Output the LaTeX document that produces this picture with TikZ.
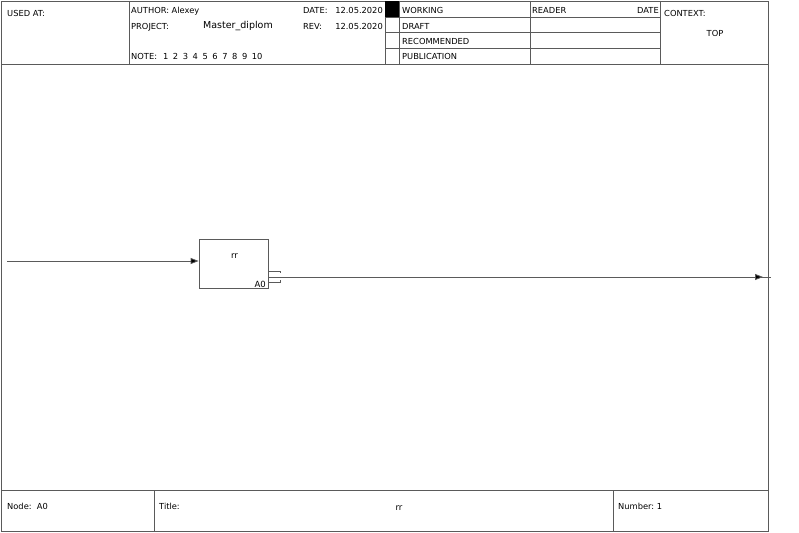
\documentclass[tikz,border=0pt]{standalone}
\usepackage{fontspec}
\setmainfont{DejaVu Sans}
\usetikzlibrary{arrows.meta}
\definecolor{ln}{RGB}{90,90,90}
\begin{document}
\begin{tikzpicture}[x=1pt,y=-1pt,
  frame/.style={draw=ln,line width=0.8pt},
  lbl/.style={inner sep=0pt,font=\fontsize{8.3}{9}\selectfont,anchor=base west},
  lblr/.style={inner sep=0pt,font=\fontsize{8.3}{9}\selectfont,anchor=base east},
  conn/.style={draw=ln,line width=0.8pt},
  tip/.style={-{Triangle[length=8pt,width=6pt,fill=black]}}]
\useasboundingbox (0,0) rectangle (799,532);
% outer frame
\draw[frame] (1,1) rectangle (768,531);
% header
\draw[frame] (1,64) -- (768,64);
\draw[frame] (129,1) -- (129,64);
\draw[frame] (385,1) -- (385,64);
\draw[frame] (399,1) -- (399,64);
\draw[frame] (530,1) -- (530,64);
\draw[frame] (660,1) -- (660,64);
\foreach \yy in {17,32,48} \draw[frame] (385,\yy) -- (660,\yy);
\fill[black] (385,1) rectangle (399,17);
% header texts
\node[lbl] (usedat) at (7,16.5) {USED AT:};
\node[lbl] (author) at (131,14) {AUTHOR: Alexey};
\node[lbl] (project) at (131,29.5) {PROJECT:};
\node[lbl,font=\fontsize{9.5}{11}\selectfont] (proj) at (203,29) {Master\_diplom};
\node[lbl] (note) at (131,60) {NOTE:\hspace{6pt}1\hspace{4.6pt}2\hspace{4.6pt}3\hspace{4.6pt}4\hspace{4.6pt}5\hspace{4.6pt}6\hspace{4.6pt}7\hspace{4.6pt}8\hspace{4.6pt}9\hspace{4.6pt}10};
\node[lbl] (date) at (303,14) {DATE:};
\node[lblr] (dateval) at (383,14) {12.05.2020};
\node[lbl] (rev) at (303,29.5) {REV:};
\node[lblr] (revval) at (383,29.5) {12.05.2020};
\node[lbl] (working) at (402,14) {WORKING};
\node[lbl] (draft) at (402,29.5) {DRAFT};
\node[lbl] (recom) at (402,45) {RECOMMENDED};
\node[lbl] (publ) at (402,60) {PUBLICATION};
\node[lbl] (reader) at (532,14) {READER};
\node[lblr] (rdate) at (659,14) {DATE};
\node[lbl] (context) at (664,16.5) {CONTEXT:};
\node[lbl,anchor=base] (top) at (715,36.5) {TOP};
% bottom
\draw[frame] (1,490) -- (768,490);
\draw[frame] (154,490) -- (154,531);
\draw[frame] (613,490) -- (613,531);
\node[lbl] (nodea) at (7,509) {Node:\ \ A0};
\node[lbl] (title) at (159,509) {Title:};
\node[lbl,anchor=base,font=\fontsize{8.5}{9}\selectfont] (ttl) at (399,510) {rr};
\node[lbl] (number) at (618,509) {Number:\ 1};
% activity box
\node[draw=ln,line width=0.8pt,minimum width=69pt,minimum height=49pt,inner sep=0pt] (box) at (233.5,263.5) {};
\node[lbl,anchor=base,font=\fontsize{8.5}{9}\selectfont] (boxt) at (234.5,258) {rr};
\node[lblr,font=\fontsize{8.5}{9}\selectfont] (a0) at (266,287) {A0};
% connectors
\coordinate (inS) at (7,261);
\coordinate (outE) at (771,277);
\coordinate (outT) at (763,277);
\draw[conn,tip] (inS) -- (inS -| box.west);
\draw[conn] (box.east |- outE) -- (outE);
\draw[conn,tip] (box.east |- outE) -- (outT);
\draw[conn] (box.east |- 0,271) -- (280,271) -- (280,273);
\draw[conn] (box.east |- 0,282) -- (280,282) -- (280,280);
\end{tikzpicture}
\end{document}
